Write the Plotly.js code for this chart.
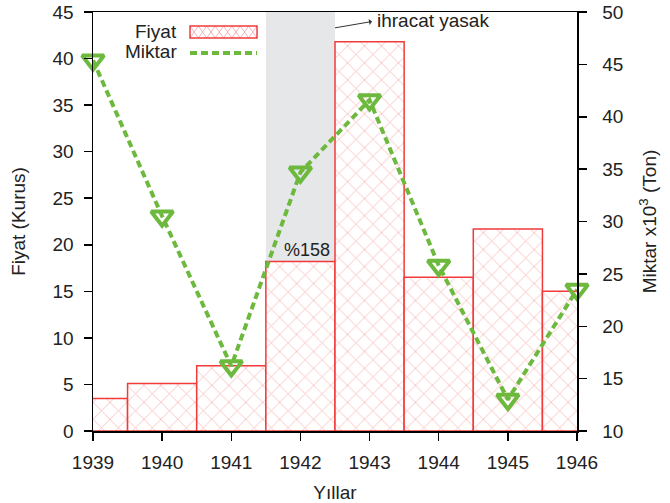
<!DOCTYPE html>
<html><head><meta charset="utf-8">
<script src="https://cdn.plot.ly/plotly-3.0.1.min.js"></script>
<style>body{margin:0}#c{width:670px;height:503px}</style>
</head><body><div id="c"></div>
<script>
const years = [1939, 1940, 1941, 1942, 1943, 1944, 1945, 1946];
const fiyat = [3.5, 5.1, 7.0, 18.2, 41.8, 16.5, 21.7, 15.0];
const miktar = [45.4, 30.5, 16.2, 34.7, 41.6, 25.8, 13.0, 23.5];
const yTicksLeft = [0, 5, 10, 15, 20, 25, 30, 35, 40, 45];
const yTicksRight = [10, 15, 20, 25, 30, 35, 40, 45, 50];

const FONT = 'Liberation Sans, Arial, sans-serif';
const FS = 19;
const TXT = '#222';
const GREEN = '#6cb93e';
const RED = '#f23a3a';
const HATCH = '#f7b3b3';

const traces = [
  {
    type: 'bar', x: years, y: fiyat, width: 1, name: 'Fiyat', showlegend: false,
    marker: { color: 'white', line: { color: RED, width: 1.5 },
      pattern: { shape: 'x', fgcolor: HATCH, bgcolor: 'white', size: 12, solidity: 0.12 } },
    hoverinfo: 'x+y'
  },
  {
    type: 'scatter', mode: 'lines+markers', x: years, y: miktar, yaxis: 'y2', name: 'Miktar', showlegend: false,
    line: { color: GREEN, width: 4, dash: '7px,4px' },
    marker: { symbol: 'triangle-down-open', size: 19, color: GREEN, line: { color: GREEN, width: 4 } },
    cliponaxis: false
  }
];

const L = 93, R = 577, T = 12, B = 431;
const px = v => (v - L) / (R - L);
const py = v => (B - v) / (B - T);

function hatchPath(x0, x1, y0, y1, step) {
  let p = '';
  const h = step / 2;
  for (let s = x0; s < x1 - 0.1; s += step) {
    const m = Math.min(s + h, x1), e = Math.min(s + step, x1);
    p += `M${px(s)},${py(y1)}L${px(m)},${py(y0)}L${px(e)},${py(y1)} `;
    p += `M${px(s)},${py(y0)}L${px(m)},${py(y1)}L${px(e)},${py(y0)} `;
  }
  return p;
}

const axFont = { family: FONT, size: FS, color: TXT };

const layout = {
  width: 670, height: 503,
  margin: { l: L, r: 670 - R, t: T, b: 503 - B },
  paper_bgcolor: 'white', plot_bgcolor: 'white',
  font: { family: FONT, size: FS, color: TXT },
  showlegend: false,
  bargap: 0,
  xaxis: {
    range: [1939, 1946], tickvals: years, ticktext: years.map(String),
    ticks: 'outside', ticklen: 8, tickcolor: '#000', tickwidth: 1.5, ticklabelstandoff: 6,
    showline: true, linecolor: '#000', linewidth: 1.5, mirror: true,
    showgrid: false, zeroline: false,
    tickfont: axFont,
    title: { text: 'Yıllar', font: axFont, standoff: 14 }
  },
  yaxis: {
    range: [0, 45], tickvals: yTicksLeft,
    ticks: 'outside', ticklen: 8, tickcolor: '#000', tickwidth: 1.5, ticklabelstandoff: 6,
    showline: true, linecolor: '#000', linewidth: 1.5,
    showgrid: false, zeroline: false,
    tickfont: axFont,
    title: { text: 'Fiyat (Kurus)', font: axFont, standoff: 22 }
  },
  yaxis2: {
    range: [10, 50], tickvals: yTicksRight, overlaying: 'y', side: 'right',
    ticks: 'outside', ticklen: 8, tickcolor: '#000', tickwidth: 1.5, ticklabelstandoff: 12,
    showline: true, linecolor: '#000', linewidth: 1.5,
    showgrid: false, zeroline: false,
    tickfont: axFont,
    title: { text: 'Miktar x10<sup>3</sup> (Ton)', font: axFont, standoff: 20 }
  },
  shapes: [
    { type: 'rect', xref: 'x', yref: 'paper', x0: 1941.5, x1: 1942.5, y0: 0, y1: 1,
      fillcolor: '#e6e7e8', line: { width: 0 }, layer: 'below' },
    { type: 'rect', xref: 'paper', yref: 'paper', x0: px(190), x1: px(257), y0: py(38), y1: py(26),
      fillcolor: 'white', line: { width: 0 } },
    { type: 'path', xref: 'paper', yref: 'paper', path: hatchPath(190, 257, 26, 38, 16.75),
      line: { color: HATCH, width: 1 } },
    { type: 'rect', xref: 'paper', yref: 'paper', x0: px(190), x1: px(257), y0: py(38), y1: py(26),
      fillcolor: 'rgba(0,0,0,0)', line: { color: RED, width: 1.5 } },
    { type: 'line', xref: 'paper', yref: 'paper', x0: px(190), x1: px(257), y0: py(53), y1: py(53),
      line: { color: GREEN, width: 4, dash: '7px,4px' } }
  ],
  annotations: [
    { xref: 'paper', yref: 'paper', x: px(179), y: py(31), xanchor: 'right', yanchor: 'middle',
      text: 'Fiyat', showarrow: false, font: axFont },
    { xref: 'paper', yref: 'paper', x: px(179), y: py(52), xanchor: 'right', yanchor: 'middle',
      text: 'Miktar', showarrow: false, font: axFont },
    { xref: 'x', yref: 'y', x: 1942.1, y: 18.2, yanchor: 'bottom', xanchor: 'center',
      text: '%158', showarrow: false, font: { family: FONT, size: 18, color: TXT } },
    { xref: 'x', yref: 'y', x: 1942.5, y: 43.3, ax: 41, ay: -7, xanchor: 'left', yanchor: 'middle',
      text: 'ihracat yasak', showarrow: true, arrowside: 'start', arrowhead: 2, arrowsize: 1,
      arrowwidth: 1, arrowcolor: '#333', standoff: 0, startstandoff: 4, borderpad: 0,
      font: axFont }
  ]
};

Plotly.newPlot('c', traces, layout, { displayModeBar: false, staticPlot: true });
</script>
</body></html>
